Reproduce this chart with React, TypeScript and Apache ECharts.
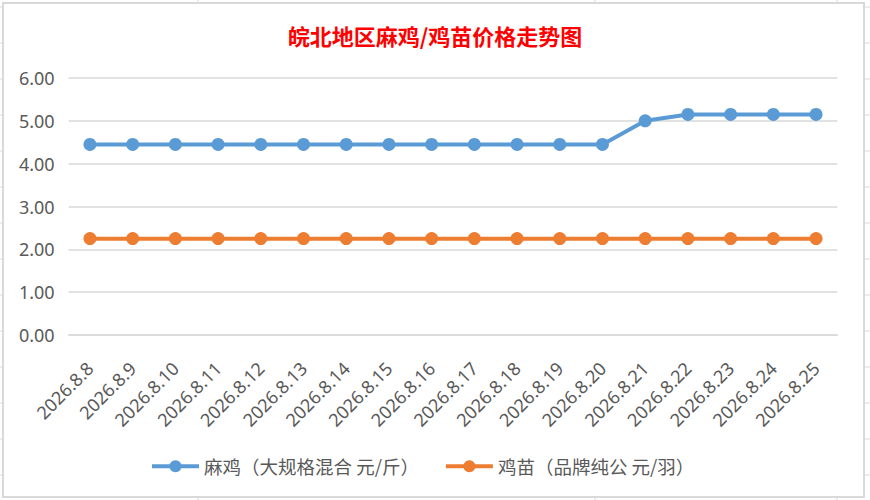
import React, { useEffect, useRef } from "react";
import * as echarts from "echarts";

const categories = [
  "2026.8.8", "2026.8.9", "2026.8.10", "2026.8.11", "2026.8.12", "2026.8.13",
  "2026.8.14", "2026.8.15", "2026.8.16", "2026.8.17", "2026.8.18", "2026.8.19",
  "2026.8.20", "2026.8.21", "2026.8.22", "2026.8.23", "2026.8.24", "2026.8.25",
];
const maJi = [4.45, 4.45, 4.45, 4.45, 4.45, 4.45, 4.45, 4.45, 4.45, 4.45, 4.45, 4.45, 4.45, 5.0, 5.15, 5.15, 5.15, 5.15];
const jiMiao = [2.25, 2.25, 2.25, 2.25, 2.25, 2.25, 2.25, 2.25, 2.25, 2.25, 2.25, 2.25, 2.25, 2.25, 2.25, 2.25, 2.25, 2.25];
const seriesNames = ["麻鸡（大规格混合 元/斤）", "鸡苗（品牌纯公 元/羽）"];
const titleText = "皖北地区麻鸡/鸡苗价格走势图";

const sheetRows = [7, 43, 79, 115, 151, 187, 223, 259, 295, 331, 367, 403, 439, 475];
const sheetCols = [198, 595, 837];

export default function App() {
  const ref = useRef<HTMLDivElement>(null);
  useEffect(() => {
    if (!ref.current) return;
    const chart = echarts.init(ref.current, null, { renderer: "svg" });
    const cellColor = "#d9d9d9";
    const graphics: any[] = [];
    sheetRows.forEach((y) => {
      graphics.push({ type: "line", silent: true, shape: { x1: 0, y1: y, x2: 3, y2: y }, style: { stroke: cellColor, lineWidth: 1 } });
      graphics.push({ type: "line", silent: true, shape: { x1: 865, y1: y, x2: 870, y2: y }, style: { stroke: cellColor, lineWidth: 1 } });
    });
    sheetCols.forEach((x) => {
      graphics.push({ type: "line", silent: true, shape: { x1: x, y1: 0, x2: x, y2: 3 }, style: { stroke: cellColor, lineWidth: 1 } });
      graphics.push({ type: "line", silent: true, shape: { x1: x, y1: 497, x2: x, y2: 500 }, style: { stroke: cellColor, lineWidth: 1 } });
    });
    graphics.push({
      type: "rect",
      silent: true,
      shape: { x: 3, y: 3, width: 861, height: 494 },
      style: { fill: "none", stroke: cellColor, lineWidth: 2 },
    });
    chart.setOption({
      animation: false,
      backgroundColor: "#ffffff",
      title: {
        text: titleText,
        left: "center",
        top: 19,
        textStyle: {
          color: "#ff0000",
          fontSize: 22,
          fontWeight: "bold",
          fontFamily: "Noto Sans CJK SC",
        },
      },
      legend: {
        left: 145,
        top: 452,
        itemWidth: 47,
        itemHeight: 15,
        itemGap: 25,
        lineStyle: { width: 4 },
        textStyle: { color: "#595959", fontSize: 18.5, fontFamily: "Noto Sans CJK SC" },
        data: seriesNames,
      },
      grid: { left: 68.6, right: 32.6, top: 78, bottom: 165 },
      xAxis: {
        type: "category",
        data: categories,
        boundaryGap: true,
        axisLine: { show: true, lineStyle: { color: "#d9d9d9", width: 1.5 } },
        axisTick: { show: false },
        axisLabel: {
          rotate: 45,
          interval: 0,
          margin: 30,
          color: "#595959",
          fontSize: 18,
          fontFamily: "Noto Sans",
        },
      },
      yAxis: {
        type: "value",
        min: 0,
        max: 6,
        interval: 1,
        axisLine: { show: false },
        axisTick: { show: false },
        splitLine: { lineStyle: { color: "#d9d9d9", width: 1.5 } },
        axisLabel: {
          margin: 14,
          color: "#595959",
          fontSize: 18,
          fontFamily: "Noto Sans",
          formatter: (v: number) => v.toFixed(2),
        },
      },
      series: [
        {
          name: seriesNames[0],
          type: "line",
          data: maJi,
          symbol: "circle",
          symbolSize: 13,
          itemStyle: { color: "#5b9bd5" },
          lineStyle: { color: "#5b9bd5", width: 4 },
        },
        {
          name: seriesNames[1],
          type: "line",
          data: jiMiao,
          symbol: "circle",
          symbolSize: 13,
          itemStyle: { color: "#ed7d31" },
          lineStyle: { color: "#ed7d31", width: 4 },
        },
      ],
      graphic: graphics,
    });
    return () => chart.dispose();
  }, []);
  return (
    <div
      ref={ref}
      style={{ position: "fixed", left: 0, top: 0, width: 870, height: 500 }}
    />
  );
}
